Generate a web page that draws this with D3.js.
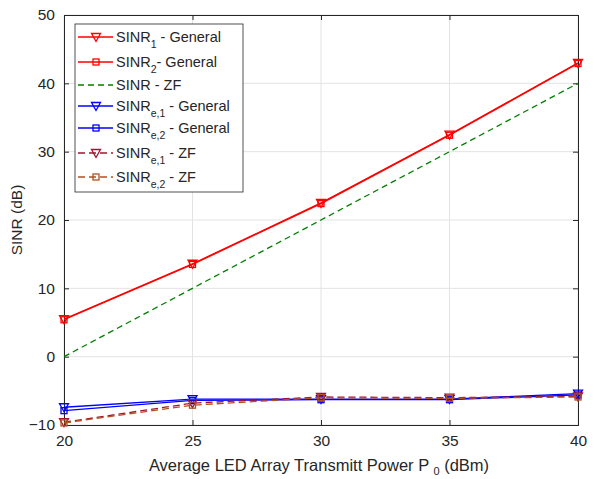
<!DOCTYPE html>
<html>
<head>
<meta charset="utf-8">
<script src="https://cdn.jsdelivr.net/npm/d3@7"></script>
<style>
  body { margin: 0; background: #fff; }
  svg text { font-family: "Liberation Sans", Arial, sans-serif; fill: #262626; }
</style>
</head>
<body>
<div id="chart"></div>
<script>
// data
var power = [20, 25, 30, 35, 40];
var sinr1General = [5.5, 13.6, 22.5, 32.5, 43.0];
var sinr2General = [5.4, 13.5, 22.4, 32.4, 42.9];
var sinrZF = [0, 10, 20, 30, 40];
var sinrE1General = [-7.4, -6.2, -6.2, -6.2, -5.4];
var sinrE2General = [-7.9, -6.4, -6.3, -6.3, -5.6];
var sinrE1ZF = [-9.6, -6.8, -5.9, -6.0, -5.8];
var sinrE2ZF = [-9.7, -7.1, -6.0, -6.1, -5.9];
var xTicks = [20, 25, 30, 35, 40];
var yTicks = [-10, 0, 10, 20, 30, 40, 50];

var series = [
  { name: "SINR", sub: "1", tail: " - General", values: sinr1General, color: "#ff0000", dash: null, marker: "tri" },
  { name: "SINR", sub: "2", tail: "- General", values: sinr2General, color: "#ff0000", dash: null, marker: "sq" },
  { name: "SINR - ZF", sub: null, tail: "", values: sinrZF, color: "#008000", dash: "6,4", marker: null },
  { name: "SINR", sub: "e,1", tail: " - General", values: sinrE1General, color: "#0000ff", dash: null, marker: "tri" },
  { name: "SINR", sub: "e,2", tail: " - General", values: sinrE2General, color: "#0000ff", dash: null, marker: "sq" },
  { name: "SINR", sub: "e,1", tail: " - ZF", values: sinrE1ZF, color: "#a2142f", dash: "7,4", marker: "tri" },
  { name: "SINR", sub: "e,2", tail: " - ZF", values: sinrE2ZF, color: "#b4501c", dash: "7,4", marker: "sq" }
];

var svgwidth = 595, svgheight = 479;
var margin = { top: 15, right: 17, bottom: 54, left: 64 };
var width = svgwidth - margin.left - margin.right;
var height = svgheight - margin.top - margin.bottom;

var svg = d3.select("#chart").append("svg")
  .attr("width", svgwidth)
  .attr("height", svgheight);

var g = svg.append("g")
  .attr("transform", `translate(${margin.left},${margin.top})`);

var x = d3.scaleLinear().domain([20, 40]).range([0, width]);
var y = d3.scaleLinear().domain([-10, 50]).range([height, 0]);

// grid
g.selectAll(".gx").data(xTicks).enter().append("line")
  .attr("x1", d => x(d)).attr("x2", d => x(d))
  .attr("y1", 0).attr("y2", height)
  .attr("stroke", "#e3e3e3");
g.selectAll(".gy").data(yTicks).enter().append("line")
  .attr("x1", 0).attr("x2", width)
  .attr("y1", d => y(d)).attr("y2", d => y(d))
  .attr("stroke", "#e3e3e3");

// axes
g.append("g").attr("transform", `translate(0,${height})`)
  .call(d3.axisBottom(x).tickValues(xTicks).tickSize(-5).tickPadding(10));
g.append("g")
  .call(d3.axisLeft(y).tickValues(yTicks).tickSize(-5).tickPadding(9));
g.append("g")
  .call(d3.axisTop(x).tickValues(xTicks).tickSize(-5).tickFormat(""));
g.append("g").attr("transform", `translate(${width},0)`)
  .call(d3.axisRight(y).tickValues(yTicks).tickSize(-5).tickFormat(""));
g.selectAll(".domain, .tick line").attr("stroke", "#262626");
g.selectAll(".tick text").attr("font-size", 15.5).attr("fill", "#262626")
  .style("font-family", "Liberation Sans, Arial, sans-serif");

// lines
var line = d3.line().x((d, i) => x(power[i])).y(d => y(d));

function drawMarker(sel, type, color) {
  if (type === "tri") {
    sel.append("path")
      .attr("d", "M-4.5,-3.5 L4.5,-3.5 L0,4.5 Z")
      .attr("fill", "none").attr("stroke", color).attr("stroke-width", 1.3);
  } else if (type === "sq") {
    sel.append("rect")
      .attr("x", -3).attr("y", -3).attr("width", 6).attr("height", 6)
      .attr("fill", "none").attr("stroke", color).attr("stroke-width", 1.3);
  }
}

series.forEach(function(s) {
  g.append("path")
    .datum(s.values)
    .attr("d", line)
    .attr("fill", "none")
    .attr("stroke", s.color)
    .attr("stroke-width", 1.3)
    .attr("stroke-dasharray", s.dash);
  if (s.marker) {
    s.values.forEach(function(v, i) {
      var m = g.append("g").attr("transform", `translate(${x(power[i])},${y(v)})`);
      drawMarker(m, s.marker, s.color);
    });
  }
});

// axis labels
var xl = svg.append("text")
  .attr("x", margin.left + width / 2 - 2)
  .attr("y", 471)
  .attr("text-anchor", "middle")
  .attr("font-size", 16.5);
xl.append("tspan").text("Average LED Array Transmitt Power P ");
xl.append("tspan").attr("font-size", 11).attr("dy", 4).text("0");
xl.append("tspan").attr("dy", -4).text(" (dBm)");

svg.append("text")
  .attr("transform", "rotate(-90)")
  .attr("x", -(margin.top + height / 2))
  .attr("y", 22)
  .attr("text-anchor", "middle")
  .attr("font-size", 15.5)
  .text("SINR (dB)");

// legend
var legend = svg.append("g").attr("transform", "translate(75,24)");
legend.append("rect")
  .attr("width", 168).attr("height", 168)
  .attr("fill", "#fff").attr("stroke", "#262626").attr("stroke-width", 0.8);
var rowY = [13, 38, 61, 82, 104, 129, 153];
series.forEach(function(s, i) {
  var row = legend.append("g").attr("transform", `translate(0,${rowY[i]})`);
  row.append("line")
    .attr("x1", 3).attr("x2", 38).attr("y1", 0).attr("y2", 0)
    .attr("stroke", s.color).attr("stroke-width", 1.3)
    .attr("stroke-dasharray", s.dash);
  if (s.marker) {
    var m = row.append("g").attr("transform", "translate(21,0)");
    drawMarker(m, s.marker, s.color);
  }
  var t = row.append("text").attr("x", 41).attr("y", 5).attr("font-size", 14.5);
  t.append("tspan").text(s.name);
  if (s.sub) {
    t.append("tspan").attr("font-size", 10.5).attr("dy", 6).text(s.sub);
    t.append("tspan").attr("dy", -6).text(s.tail);
  }
});
</script>
</body>
</html>
